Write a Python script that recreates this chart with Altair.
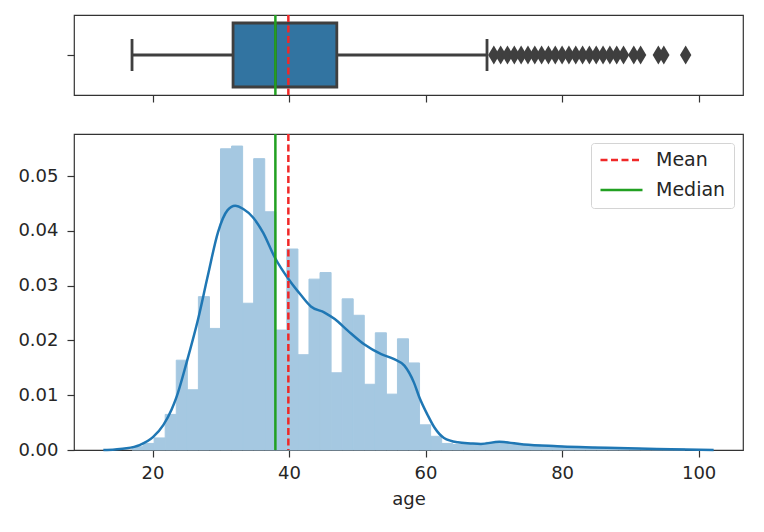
import altair as alt
import numpy as np
import pandas as pd

# ---------------- data ----------------
# histogram (50 equal bins between the min and max age), density per bin
HIST_MIN, HIST_MAX, N_BINS = 17.0, 98.0, 50
hist_density = [
    0.0006, 0.0012, 0.0022, 0.0065, 0.0164, 0.0110, 0.0280, 0.0222, 0.0550, 0.0555,
    0.0268, 0.0532, 0.0435, 0.0219, 0.0367, 0.0174, 0.0312, 0.0324, 0.0141, 0.0276,
    0.0246, 0.0120, 0.0214, 0.0102, 0.0203, 0.0159, 0.0046, 0.0025, 0.0012, 0.0010,
    0.0011, 0.0010, 0.0014, 0.0015, 0.0012, 0.0010, 0.0009, 0.0008, 0.0007, 0.0006,
    0.0005, 0.0005, 0.0004, 0.0004, 0.0003, 0.0003, 0.0002, 0.0002, 0.0001, 0.0002,
]

# KDE curve points
kde_age = [12.8, 14.5, 16.2, 18.1, 20.1, 21.6, 22.8, 23.5, 25.0, 26.7, 28.1, 29.6,
           31.0, 32.1, 33.3, 34.7, 36.2, 37.9, 40.1, 41.8, 43.2, 45.2, 46.7, 48.6,
           51.0, 53.5, 55.4, 56.9, 58.3, 59.1, 60.3, 61.3, 62.7, 64.7, 66.6, 68.1,
           70.8, 74.4, 79.3, 86.6, 93.9, 102.2]
kde_density = [0.0000, 0.0001, 0.0003, 0.0009, 0.0024, 0.0046, 0.0074, 0.0096, 0.0160,
               0.0240, 0.0318, 0.0398, 0.0438, 0.0446, 0.0440, 0.0425, 0.0397, 0.0352,
               0.0309, 0.0282, 0.0262, 0.0251, 0.0239, 0.0218, 0.0193, 0.0175, 0.0166,
               0.0154, 0.0123, 0.0096, 0.0064, 0.0041, 0.0022, 0.0014, 0.0012, 0.0011,
               0.0015, 0.0010, 0.0007, 0.0004, 0.0002, 0.0000]

# summary statistics
mean_age = 39.9
median_age = 38.0
q1_age, q3_age = 31.8, 47.0
whisker_lo, whisker_hi = 17.0, 69.0
outlier_ages = [70, 71, 72, 73, 74, 75, 76, 77, 78, 79, 80, 81, 82, 83, 84, 85, 86,
                87, 88, 89, 90.5, 91.5, 94.1, 94.9, 98.1]

line_names = ["Mean", "Median"]
line_values = [mean_age, median_age]

x_ticks = [20, 40, 60, 80, 100]
y_ticks = [0.0, 0.01, 0.02, 0.03, 0.04, 0.05]

# ---------------- styling ----------------
BLUE = "#1f77b4"
BAR_FILL = "#a5c8e1"   # tab:blue at 40% alpha over white
BOX_BLUE = "#3274a1"
GRAY = "#3f3f3f"
RED = "#f02828"
GREEN = "#22a022"
FONT = "DejaVu Sans"
TXT = "#262626"
LW = 2.5
BW = 2.8

X_DOMAIN = [8.5, 106.5]
W = 669

edges = np.linspace(HIST_MIN, HIST_MAX, N_BINS + 1)
hist_df = pd.DataFrame({"start": edges[:-1], "end": edges[1:], "density": hist_density})
kde_df = pd.DataFrame({"age": kde_age, "density": kde_density})
lines_df = pd.DataFrame({"name": line_names, "age": line_values})

xscale = alt.Scale(domain=X_DOMAIN, nice=False, zero=False)

# ---------------- top: boxplot ----------------
ytop = alt.Scale(domain=[-0.5, 0.5], nice=False, zero=False)

whisk_df = pd.DataFrame({"x": [whisker_lo, q3_age], "x2": [q1_age, whisker_hi], "y": [0, 0]})
box_df = pd.DataFrame({"x": [q1_age], "x2": [q3_age], "y": [-0.4], "y2": [0.4]})
cap_df = pd.DataFrame({"x": [whisker_lo, whisker_hi], "y": [-0.2, -0.2], "y2": [0.2, 0.2]})
med_df = pd.DataFrame({"x": [median_age], "y": [-0.4], "y2": [0.4]})
out_df = pd.DataFrame({"x": outlier_ages, "y": [0] * len(outlier_ages)})

top_xaxis = alt.Axis(values=x_ticks, labels=False, title=None, tickSize=7,
                     domain=False, grid=False)
top_yaxis = alt.Axis(values=[0], labels=False, title=None, tickSize=7,
                     domain=False, grid=False)

whiskers = alt.Chart(whisk_df).mark_rule(color=GRAY, strokeWidth=BW).encode(
    x=alt.X("x:Q", scale=xscale, axis=top_xaxis),
    x2="x2:Q",
    y=alt.Y("y:Q", scale=ytop, axis=top_yaxis),
)
caps = alt.Chart(cap_df).mark_rule(color=GRAY, strokeWidth=BW).encode(
    x=alt.X("x:Q", scale=xscale), y=alt.Y("y:Q", scale=ytop), y2="y2:Q"
)
box = alt.Chart(box_df).mark_rect(fill=BOX_BLUE, stroke=GRAY, strokeWidth=BW).encode(
    x=alt.X("x:Q", scale=xscale), x2="x2:Q", y=alt.Y("y:Q", scale=ytop), y2="y2:Q"
)
box_med = alt.Chart(med_df).mark_rule(color=GRAY, strokeWidth=BW).encode(
    x=alt.X("x:Q", scale=xscale), y=alt.Y("y:Q", scale=ytop), y2="y2:Q"
)
outliers = alt.Chart(out_df).mark_point(
    shape="M0,-1L0.6,0L0,1L-0.6,0Z", filled=True, fill=GRAY, size=360, opacity=1,
    strokeWidth=0,
).encode(x=alt.X("x:Q", scale=xscale), y=alt.Y("y:Q", scale=ytop))

top_mean = alt.Chart(pd.DataFrame({"x": [mean_age]})).mark_rule(
    color=RED, strokeWidth=LW, strokeDash=[7, 3.5]
).encode(x=alt.X("x:Q", scale=xscale))
top_median = alt.Chart(pd.DataFrame({"x": [median_age]})).mark_rule(
    color=GREEN, strokeWidth=LW
).encode(x=alt.X("x:Q", scale=xscale))

top = alt.layer(whiskers, caps, box, box_med, outliers, top_median, top_mean).properties(
    width=W, height=80
)

# ---------------- bottom: histogram + KDE ----------------
yscale = alt.Scale(domain=[0, 0.0577], nice=False, zero=True)

bars = alt.Chart(hist_df).mark_rect(color=BAR_FILL, stroke=BAR_FILL, strokeWidth=1).encode(
    x=alt.X("start:Q", scale=xscale,
            axis=alt.Axis(values=x_ticks, title="age", tickSize=7, labelPadding=7,
                          titlePadding=8, domain=False, grid=False)),
    x2="end:Q",
    y=alt.Y("density:Q", scale=yscale,
            axis=alt.Axis(values=y_ticks, format=".2f", title=None, tickSize=7,
                          labelPadding=9, domain=False, grid=False)),
    y2=alt.datum(0),
)
kde = alt.Chart(kde_df).mark_line(color=BLUE, strokeWidth=LW, interpolate="monotone").encode(
    x=alt.X("age:Q", scale=xscale), y=alt.Y("density:Q", scale=yscale)
)

legend = alt.Legend(
    title=None, orient="top-right", offset=9, symbolType="stroke", symbolSize=1764,
    symbolStrokeWidth=LW, labelFontSize=19, labelFont=FONT, labelColor=TXT,
    padding=8, fillColor="white", strokeColor="#d4d4d4", cornerRadius=3,
    clipHeight=18, rowPadding=11, labelOffset=12, symbolOffset=0,
)
rules = alt.Chart(lines_df).mark_rule(strokeWidth=LW).encode(
    x=alt.X("age:Q", scale=xscale),
    color=alt.Color("name:N", scale=alt.Scale(domain=line_names, range=[RED, GREEN]),
                    legend=legend),
    strokeDash=alt.StrokeDash("name:N",
                              scale=alt.Scale(domain=line_names, range=[[7, 3.5], [1, 0]]),
                              legend=legend),
)

bottom = alt.layer(bars, kde, rules).properties(width=W, height=316)

chart = alt.vconcat(top, bottom, spacing=28).resolve_legend(
    color="independent", strokeDash="independent"
).properties(
    padding={"left": 9, "top": 5, "right": 5, "bottom": 5}
).configure_view(
    stroke="#333333", strokeWidth=1.2
).configure_axis(
    tickColor="#333333", tickWidth=1.2, labelFont=FONT, labelFontSize=18,
    labelColor=TXT, titleFont=FONT, titleFontSize=18, titleFontWeight="normal",
    titleColor=TXT,
)

chart.save("out.html", embed_options={"renderer": "svg", "actions": False})
